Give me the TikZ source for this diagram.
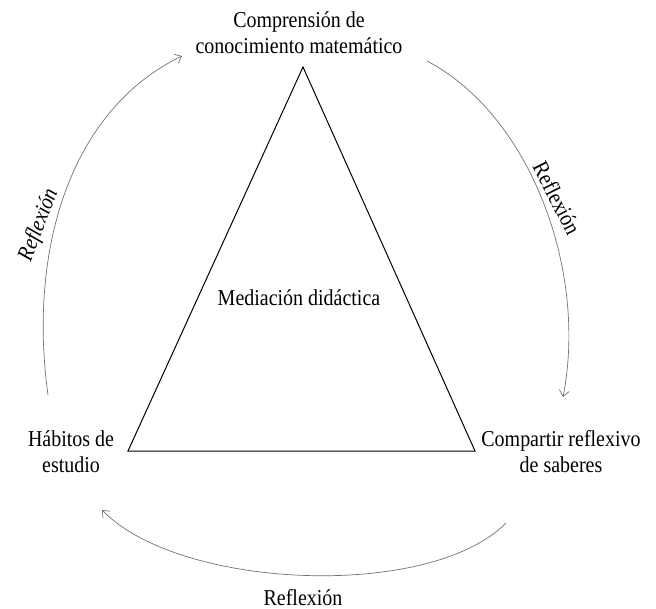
\documentclass[tikz,border=0pt]{standalone}
\usepackage{fontspec}
\setmainfont{Liberation Serif}[FakeStretch=0.88]
\usetikzlibrary{arrows.meta}
\begin{document}
\begin{tikzpicture}[x=1pt,y=-1pt,
  lbl/.style={font=\fontsize{22.7}{26}\selectfont, align=center, inner sep=0pt},
  tri/.style={draw=black, line width=1pt, line join=miter},
  flow/.style={draw=black!55, line width=0.7pt, -{Straight Barb[length=6pt,width=10pt]}}]
\useasboundingbox (0,0) rectangle (656,609);
% triangle
\coordinate (A) at (303,67);
\coordinate (B) at (128,451);
\coordinate (C) at (475,451);
\draw[tri] (A) -- (B) -- (C) -- cycle;
% labels (base anchor = baseline of the last line)
\node[lbl, anchor=base] (top) at (299,54) {Comprensión de\\conocimiento matemático};
\node[lbl, anchor=base] (mid) at (299,306) {Mediación didáctica};
\node[lbl, anchor=base] (left) at (71,472) {Hábitos de\\estudio};
\node[lbl, anchor=base] (right) at (561,472) {Compartir reflexivo\\de saberes};
% arcs
\coordinate (L0) at (48,395);
\coordinate (L1) at (182,56);
\coordinate (R0) at (427,61);
\coordinate (R1) at (563,397);
\coordinate (D0) at (506,523);
\coordinate (D1) at (102,510);
\draw[flow] (L0) .. controls (28,250) and (70,110) .. (L1);
\draw[flow] (R0) .. controls (530,115) and (588,270) .. (R1);
\draw[flow] (D0) .. controls (430,600) and (180,590) .. (D1);
\node[lbl, font=\fontsize{22.7}{26}\selectfont\itshape, rotate=69] (rl) at (39,225) {Reflexión};
\node[lbl, rotate=-63] (rr) at (557,198) {Reflexión};
\node[lbl, anchor=base] (rb) at (303,605) {Reflexión};
\end{tikzpicture}
\end{document}
